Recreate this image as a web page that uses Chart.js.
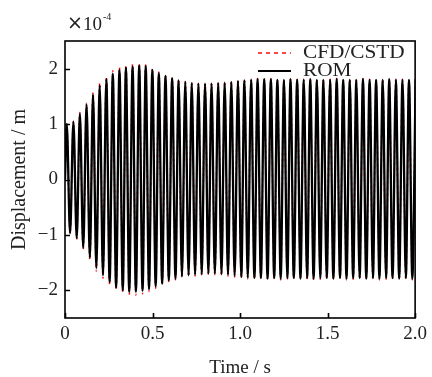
<!DOCTYPE html>
<html>
<head>
<meta charset="utf-8">
<script src="https://cdn.jsdelivr.net/npm/chart.js@4.4.1/dist/chart.umd.min.js"></script>
<style>
  html, body { margin: 0; padding: 0; background: #fff; }
</style>
</head>
<body>
<canvas id="dispChart" width="432" height="377"></canvas>
<script>
// time of each crest / trough (s)
const peakTimes = [
    0.010, 0.048, 0.085, 0.123, 0.160, 0.198, 0.236, 0.273, 0.311, 0.348,
    0.386, 0.424, 0.461, 0.499, 0.536, 0.574, 0.612, 0.649, 0.687, 0.724,
    0.762, 0.800, 0.837, 0.875, 0.912, 0.950, 0.988, 1.025, 1.063, 1.100,
    1.138, 1.176, 1.213, 1.251, 1.288, 1.326, 1.364, 1.401, 1.439, 1.476,
    1.514, 1.552, 1.589, 1.627, 1.664, 1.702, 1.740, 1.777, 1.815, 1.852,
    1.890, 1.928, 1.965, 2.003
];
const troughTimes = [
    0.029, 0.067, 0.104, 0.142, 0.179, 0.217, 0.255, 0.292, 0.330, 0.367,
    0.405, 0.443, 0.480, 0.518, 0.555, 0.593, 0.631, 0.668, 0.706, 0.743,
    0.781, 0.819, 0.856, 0.894, 0.931, 0.969, 1.007, 1.044, 1.082, 1.119,
    1.157, 1.195, 1.232, 1.270, 1.307, 1.345, 1.383, 1.420, 1.458, 1.495,
    1.533, 1.571, 1.608, 1.646, 1.683, 1.721, 1.759, 1.796, 1.834, 1.871,
    1.909, 1.947, 1.984
];

// displacement (x1e-4 m)
const romPeaks = [
    1.00, 1.04, 1.19, 1.35, 1.53, 1.70, 1.81, 1.91, 1.98, 2.02,
    2.04, 2.06, 2.05, 1.98, 1.92, 1.87, 1.83, 1.79, 1.76, 1.74,
    1.73, 1.73, 1.73, 1.74, 1.75, 1.76, 1.78, 1.79, 1.80, 1.81,
    1.81, 1.81, 1.80, 1.80, 1.81, 1.80, 1.80, 1.81, 1.80, 1.80,
    1.80, 1.81, 1.80, 1.80, 1.80, 1.81, 1.80, 1.80, 1.80, 1.81,
    1.80, 1.80, 1.80, 1.81
];
const romTroughs = [
    -0.97, -1.06, -1.23, -1.41, -1.60, -1.73, -1.85, -1.95, -2.00, -2.03,
    -2.03, -2.01, -1.98, -1.93, -1.88, -1.82, -1.79, -1.75, -1.73, -1.72,
    -1.71, -1.70, -1.70, -1.71, -1.72, -1.74, -1.76, -1.77, -1.78, -1.78,
    -1.79, -1.78, -1.79, -1.78, -1.78, -1.79, -1.78, -1.79, -1.78, -1.78,
    -1.79, -1.78, -1.79, -1.78, -1.78, -1.79, -1.78, -1.79, -1.78, -1.78,
    -1.79, -1.78, -1.79
];
const cfdPeaks = [
    1.00, 1.05, 1.21, 1.38, 1.57, 1.75, 1.86, 1.96, 2.03, 2.07,
    2.09, 2.10, 2.08, 2.01, 1.94, 1.89, 1.84, 1.80, 1.77, 1.75,
    1.74, 1.74, 1.74, 1.75, 1.76, 1.77, 1.79, 1.80, 1.81, 1.82,
    1.82, 1.82, 1.81, 1.81, 1.82, 1.81, 1.81, 1.82, 1.81, 1.81,
    1.81, 1.82, 1.81, 1.81, 1.81, 1.82, 1.81, 1.81, 1.81, 1.82,
    1.81, 1.81, 1.81, 1.82
];
const cfdTroughs = [
    -0.98, -1.08, -1.26, -1.45, -1.65, -1.78, -1.90, -2.00, -2.05, -2.08,
    -2.09, -2.06, -2.02, -1.96, -1.91, -1.85, -1.81, -1.77, -1.75, -1.74,
    -1.73, -1.72, -1.72, -1.73, -1.74, -1.76, -1.78, -1.79, -1.80, -1.80,
    -1.81, -1.80, -1.81, -1.80, -1.80, -1.81, -1.80, -1.81, -1.80, -1.80,
    -1.81, -1.80, -1.81, -1.80, -1.80, -1.81, -1.80, -1.81, -1.80, -1.80,
    -1.81, -1.80, -1.81
];

const xTicks = [0, 0.5, 1.0, 1.5, 2.0];
const xTickLabels = ["0", "0.5", "1.0", "1.5", "2.0"];
const yTicks = [-2, -1, 0, 1, 2];
const yTickLabels = ["\u22122", "\u22121", "0", "1", "2"];

const serif = "'Liberation Serif', 'Times New Roman', serif";

// merge crests and troughs into one time-ordered trace, starting from rest
function buildTrace(peaks, troughs) {
    const pts = [{ x: 0, y: 0 }];
    peaks.forEach((v, i) => pts.push({ x: peakTimes[i], y: v }));
    troughs.forEach((v, i) => pts.push({ x: troughTimes[i], y: v }));
    pts.sort((a, b) => a.x - b.x);
    return pts;
}

// box frame, inward ticks, legend and the exponent label
const frameAndLegend = {
    id: "frameAndLegend",
    afterDatasetsDraw(chart) {
        const ctx = chart.ctx;
        const a = chart.chartArea;
        const xs = chart.scales.x;
        const ys = chart.scales.y;

        ctx.save();
        ctx.strokeStyle = "#000";
        ctx.lineWidth = 1.6;
        ctx.strokeRect(a.left, a.top, a.right - a.left, a.bottom - a.top);

        ctx.beginPath();
        xTicks.forEach(v => {
            const px = Math.round(xs.getPixelForValue(v)) + 0.5;
            ctx.moveTo(px, a.bottom);
            ctx.lineTo(px, a.bottom - 5);
        });
        yTicks.forEach(v => {
            const py = Math.round(ys.getPixelForValue(v)) + 0.5;
            ctx.moveTo(a.left, py);
            ctx.lineTo(a.left + 5, py);
        });
        ctx.stroke();

        // legend
        const ds = chart.data.datasets;
        const rows = [52, 70];
        ds.forEach((d, i) => {
            const y = rows[i];
            ctx.beginPath();
            ctx.strokeStyle = d.borderColor;
            ctx.lineWidth = i === 0 ? 1.6 : 2;
            ctx.setLineDash(i === 0 ? [4, 4] : []);
            ctx.moveTo(258, y + 1);
            ctx.lineTo(291, y + 1);
            ctx.stroke();
            ctx.setLineDash([]);

            ctx.save();
            ctx.translate(303, y);
            ctx.scale(1.12, 1);
            ctx.fillStyle = "#222";
            ctx.font = "19px " + serif;
            ctx.textBaseline = "middle";
            ctx.fillText(d.label, 0, 1);
            ctx.restore();
        });

        // x10^-4 multiplier
        ctx.fillStyle = "#222";
        ctx.textBaseline = "alphabetic";
        ctx.font = "19px 'DejaVu Sans', sans-serif";
        ctx.fillText("\u00d7", 67, 29);
        const wx = ctx.measureText("\u00d7").width;
        ctx.font = "19px " + serif;
        ctx.fillText("10", 67 + wx, 30);
        const w10 = ctx.measureText("10").width;
        ctx.font = "10px " + serif;
        ctx.fillText("-4", 67 + wx + w10 + 1, 20);
        ctx.restore();
    }
};

const ctx = document.getElementById("dispChart").getContext("2d");

new Chart(ctx, {
    type: "line",
    data: {
        datasets: [
            {
                label: "CFD/CSTD",
                data: buildTrace(cfdPeaks, cfdTroughs),
                borderColor: "#ff1a1a",
                borderWidth: 1.6,
                borderDash: [2, 4],
                pointRadius: 0,
                cubicInterpolationMode: "monotone",
                fill: false,
                order: 2
            },
            {
                label: "ROM",
                data: buildTrace(romPeaks, romTroughs),
                borderColor: "#000000",
                borderWidth: 2.3,
                pointRadius: 0,
                cubicInterpolationMode: "monotone",
                fill: false,
                order: 1
            }
        ]
    },
    options: {
        responsive: false,
        animation: false,
        events: [],
        layout: {
            padding: { top: 41, right: 15, left: 0, bottom: 0 }
        },
        plugins: {
            legend: { display: false },
            tooltip: { enabled: false }
        },
        scales: {
            x: {
                type: "linear",
                min: 0,
                max: 2,
                afterBuildTicks: s => { s.ticks = xTicks.map(v => ({ value: v })); },
                afterFit: s => { s.height = 59; },
                grid: { display: false, drawTicks: false },
                border: { display: false },
                ticks: {
                    color: "#222",
                    font: { family: serif, size: 19 },
                    padding: 5,
                    maxRotation: 0,
                    autoSkip: false,
                    callback: (v, i) => xTickLabels[i]
                },
                title: {
                    display: true,
                    text: "Time / s",
                    color: "#222",
                    font: { family: serif, size: 19 },
                    padding: { top: 0, bottom: -2 }
                }
            },
            y: {
                type: "linear",
                min: -2.5,
                max: 2.5,
                afterBuildTicks: s => { s.ticks = yTicks.map(v => ({ value: v })); },
                afterFit: s => { s.width = 65; },
                grid: { display: false, drawTicks: false },
                border: { display: false },
                ticks: {
                    color: "#222",
                    font: { family: serif, size: 19 },
                    padding: 7,
                    autoSkip: false,
                    callback: (v, i) => yTickLabels[i]
                },
                title: {
                    display: true,
                    text: "Displacement / m",
                    color: "#222",
                    font: { family: serif, size: 20 },
                    padding: { top: 8, bottom: 0 }
                }
            }
        }
    },
    plugins: [frameAndLegend]
});
</script>
</body>
</html>
